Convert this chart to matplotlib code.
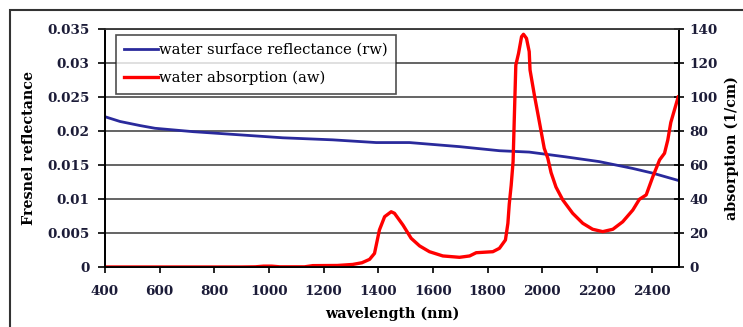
import matplotlib
matplotlib.use("Agg")
import matplotlib.pyplot as plt
from matplotlib.patches import Rectangle

# surface reflectance (left axis)
wl_rw = [400, 455, 528, 583, 723, 869, 1051, 1233, 1392, 1514, 1697, 1843,
         1952, 2085, 2208, 2330, 2404, 2500]
rw = [0.0221, 0.0214, 0.0208, 0.0204, 0.0199, 0.0195, 0.0190, 0.0187, 0.0183,
      0.0183, 0.0177, 0.0171, 0.0169, 0.0162, 0.0155, 0.0145, 0.0138, 0.0127]

# water absorption (right axis)
wl_aw = [400, 900, 950, 980, 1010, 1040, 1130, 1160, 1250, 1306, 1340, 1368,
         1386, 1404, 1423, 1447, 1459, 1490, 1520, 1551, 1587, 1636, 1697,
         1734, 1758, 1819, 1843, 1865, 1874, 1879, 1886, 1893, 1897, 1903,
         1913, 1924, 1931, 1942, 1952, 1955, 1971, 1989, 2007, 2020, 2032,
         2050, 2075, 2111, 2148, 2184, 2221, 2258, 2294, 2331, 2355, 2380,
         2404, 2429, 2447, 2459, 2470, 2497]
aw = [0, 0, 0.1, 0.5, 0.5, 0.1, 0.1, 0.8, 0.9, 1.5, 2.5, 4.5,
      8, 21.8, 29.6, 32.5, 31.6, 24.7, 16.9, 12.4, 9, 6.5, 5.7,
      6.5, 8.4, 9, 11, 15.9, 25.7, 37, 48, 62, 85, 118.8,
      125.7, 135.5, 136.9, 134.5, 126.7, 115.9, 101, 85.5, 69.8, 64, 55.5,
      47, 39.4, 31.6, 25.7, 22.2, 20.8, 22.2, 26.6, 33.5, 39.8, 42.4,
      53, 63, 66.9, 74.7, 85, 100]

x_ticks = list(range(400, 2401, 200))
left_ticks = [0, 0.005, 0.01, 0.015, 0.02, 0.025, 0.03, 0.035]
left_labels = ["0", "0.005", "0.01", "0.015", "0.02", "0.025", "0.03", "0.035"]
right_ticks = list(range(0, 141, 20))

plt.rcParams['font.family'] = ['DejaVu Serif']
tick_color = '#1c1c38'
grid_color = '#3a3a3a'

fig = plt.figure(figsize=(7.43, 3.27), dpi=100)
ax = fig.add_axes([105 / 743, 1 - 267 / 327, 574 / 743, 238 / 327])
ax2 = ax.twinx()

ax.set_xlim(400, 2500)
ax.set_ylim(0, 0.035)
ax2.set_ylim(0, 140)

ax.set_yticks(left_ticks)
ax.set_yticklabels(left_labels)
ax.set_xticks(x_ticks)
ax2.set_yticks(right_ticks)

ax.grid(axis='y', color=grid_color, linewidth=1.1)
ax.set_axisbelow(True)

l1, = ax.plot(wl_rw, rw, color='#2a2a9c', linewidth=2.0,
              label='water surface reflectance (rw)')
l2, = ax2.plot(wl_aw, aw, color='#ff0000', linewidth=2.4,
               label='water absorption (aw)')

for a in (ax, ax2):
    a.spines['top'].set_color(grid_color)
    a.spines['top'].set_linewidth(1.1)
    a.spines['left'].set_linewidth(1.3)
    a.spines['right'].set_linewidth(1.3)
    a.spines['bottom'].set_linewidth(1.3)

ax.tick_params(axis='y', direction='out', length=5, width=1.2, pad=6,
               labelsize=9.7, labelcolor=tick_color)
ax.tick_params(axis='x', direction='out', length=4, width=1.2, pad=9,
               labelsize=9.7, labelcolor=tick_color)
ax2.tick_params(axis='y', direction='inout', length=7, width=1.2, pad=4,
                labelsize=9.7, labelcolor=tick_color)
for lab in ax.get_xticklabels() + ax.get_yticklabels() + ax2.get_yticklabels():
    lab.set_fontweight('bold')

ax.set_xlabel('wavelength (nm)', fontsize=10.3, fontweight='bold', labelpad=6)
ax.set_ylabel('Fresnel reflectance', fontsize=10.3, fontweight='bold', labelpad=8)
ax2.set_ylabel('absorption (1/cm)', fontsize=10.3, fontweight='bold', labelpad=5)

leg = ax.legend(handles=[l1, l2], loc='upper left', bbox_to_anchor=(0.019, 0.975),
                borderaxespad=0, fontsize=10.6, frameon=True, fancybox=False,
                handlelength=2.3, handletextpad=0.1, labelspacing=0.95,
                borderpad=0.55)
leg.get_frame().set_edgecolor('#222222')
leg.get_frame().set_linewidth(1.2)
leg.set_zorder(5)

# outer chart frame
fig.add_artist(Rectangle((10 / 743, -0.1), 1.2, 1 - 10 / 327 + 0.1,
                         transform=fig.transFigure, fill=False,
                         edgecolor='#333333', linewidth=1.5))

fig.savefig('out.png', dpi=100)
